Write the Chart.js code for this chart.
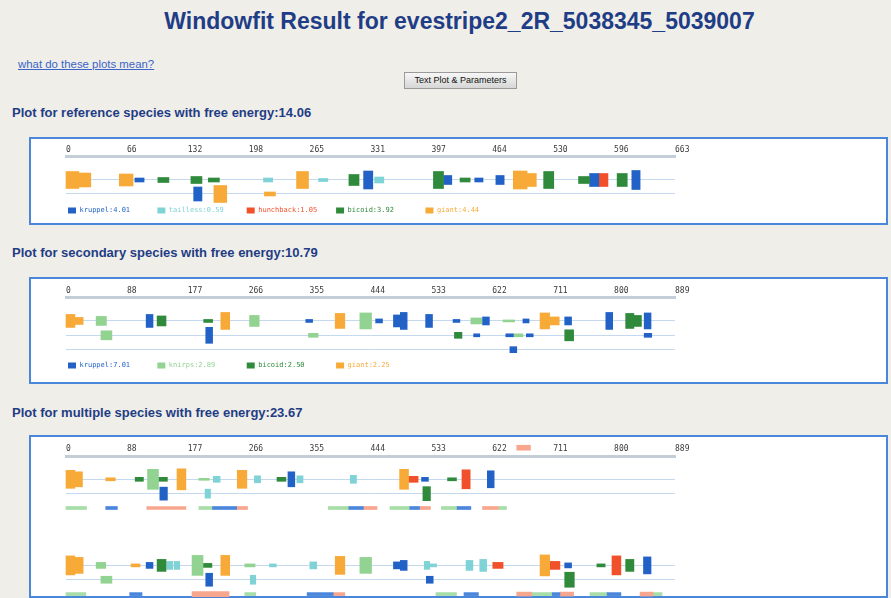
<!DOCTYPE html>
<html>
<head>
<meta charset="utf-8">
<script src="https://cdn.jsdelivr.net/npm/chart.js@4.4.1/dist/chart.umd.min.js"></script>
<style>
  body { margin: 0; background: #efeee8; font-family: "Liberation Sans", Arial, sans-serif; }
  #page { position: relative; width: 891px; height: 598px; overflow: hidden; }
  h1 { position: absolute; top: 8px; left: 14px; width: 891px; margin: 0; text-align: center;
       font: bold 23px "Liberation Sans", Arial, sans-serif; color: #1f3d86; }
  .help { position: absolute; left: 18px; top: 58px; font-size: 11.4px; color: #3a64c8; text-decoration: underline; }
  .btn { position: absolute; left: 404px; top: 72px; width: 113px; height: 17px; box-sizing: border-box;
         border: 1px solid #9a9a9a; background: linear-gradient(#f7f7f7, #d6d6d6);
         font-size: 9px; line-height: 15px; text-align: center; color: #111; }
  h2 { position: absolute; left: 12px; margin: 0; line-height: 15px;
       font: bold 13px "Liberation Sans", Arial, sans-serif; color: #1f3d86; }
  .panel { position: absolute; left: 29px; width: 859px; box-sizing: border-box; border: 2px solid #4a86da; background: #fff; }
  canvas { position: absolute; left: 31px; }
</style>
</head>
<body>
<div id="page">
  <h1>Windowfit Result for evestripe2_2R_5038345_5039007</h1>
  <div class="help">what do these plots mean?</div>
  <div class="btn">Text Plot &amp; Parameters</div>

  <h2 style="top:105px">Plot for reference species with free energy:14.06</h2>
  <div class="panel" style="top:137px;height:88px"></div>
  <canvas id="refChart" width="855" height="90" style="top:139px"></canvas>

  <h2 style="top:245px">Plot for secondary species with free energy:10.79</h2>
  <div class="panel" style="top:277px;height:107px"></div>
  <canvas id="secChart" width="855" height="105" style="top:279px"></canvas>

  <h2 style="top:405px">Plot for multiple species with free energy:23.67</h2>
  <div class="panel" style="top:435px;height:163px"></div>
  <canvas id="mulChart" width="855" height="161" style="top:437px"></canvas>
</div>

<script>
// ---- reference species (663 bp) ----
const refLength = 663;
const refTicks = ['0', '66', '132', '198', '265', '331', '397', '464', '530', '596', '663'];
const refFactors = ['kruppel', 'tailless', 'hunchback', 'bicoid', 'giant'];
const refEnergies = ['4.01', '0.59', '1.05', '3.92', '4.44'];
// [factor, start bp, end bp, row, score]
const refSites = [
  ['giant', 0, 14, 1, 3.9], ['giant', 14, 27, 1, 3.2], ['giant', 58, 73, 1, 2.7],
  ['kruppel', 75, 85, 1, 0.9], ['bicoid', 100, 112, 1, 1.1], ['bicoid', 136, 148, 1, 1.5],
  ['bicoid', 155, 167, 1, 0.8], ['tailless', 215, 225, 1, 1.0], ['giant', 251, 264, 1, 3.9],
  ['tailless', 275, 285, 1, 0.7], ['bicoid', 308, 319, 1, 2.5], ['kruppel', 324, 334, 1, 4.1],
  ['tailless', 336, 346, 1, 1.4], ['bicoid', 400, 411, 1, 3.9], ['kruppel', 411, 420, 1, 2.0],
  ['bicoid', 429, 440, 1, 0.9], ['kruppel', 445, 454, 1, 0.8], ['kruppel', 468, 477, 1, 2.0],
  ['giant', 487, 502, 1, 4.1], ['giant', 502, 512, 1, 3.0], ['bicoid', 520, 531, 1, 3.9],
  ['bicoid', 558, 570, 1, 1.5], ['kruppel', 570, 580, 1, 3.0], ['hunchback', 580, 590, 1, 3.0],
  ['bicoid', 600, 611, 1, 3.0], ['kruppel', 616, 625, 1, 4.3],
  ['kruppel', 139, 148, 2, 3.1], ['giant', 161, 175, 2, 3.9], ['giant', 216, 228, 2, 1.0]
];

// ---- secondary species (889 bp) ----
const secLength = 889;
const secTicks = ['0', '88', '177', '266', '355', '444', '533', '622', '711', '800', '889'];
const secFactors = ['kruppel', 'knirps', 'bicoid', 'giant'];
const secEnergies = ['7.01', '2.89', '2.50', '2.25'];
const secSites = [
  ['giant', 0, 13, 1, 3.0], ['giant', 13, 25, 1, 1.7], ['knirps', 44, 59, 1, 2.0],
  ['kruppel', 117, 127, 1, 3.0], ['bicoid', 133, 146, 1, 2.3], ['bicoid', 201, 214, 1, 0.7],
  ['giant', 226, 239, 1, 3.8], ['knirps', 268, 282, 1, 2.5], ['kruppel', 350, 360, 1, 0.7],
  ['giant', 393, 407, 1, 3.4], ['knirps', 429, 446, 1, 3.6], ['kruppel', 452, 462, 1, 0.8],
  ['kruppel', 478, 488, 1, 2.8], ['kruppel', 488, 498, 1, 3.8], ['kruppel', 525, 535, 1, 3.0],
  ['kruppel', 565, 575, 1, 0.7], ['knirps', 591, 607, 1, 1.4], ['kruppel', 608, 618, 1, 1.9],
  ['knirps', 638, 655, 1, 0.5], ['kruppel', 667, 676, 1, 0.8], ['giant', 692, 706, 1, 3.6],
  ['giant', 706, 720, 1, 1.9], ['kruppel', 728, 738, 1, 1.9], ['kruppel', 788, 798, 1, 3.8],
  ['bicoid', 817, 829, 1, 3.4], ['bicoid', 829, 840, 1, 2.5], ['kruppel', 844, 854, 1, 3.6],
  ['knirps', 51, 67, 2, 2.0], ['kruppel', 204, 214, 2, 3.6], ['knirps', 354, 368, 2, 1.0],
  ['bicoid', 567, 578, 2, 1.3], ['kruppel', 595, 604, 2, 0.7], ['kruppel', 642, 653, 2, 0.7],
  ['knirps', 653, 667, 2, 0.6], ['kruppel', 672, 682, 2, 0.7], ['bicoid', 728, 741, 2, 2.4],
  ['kruppel', 844, 855, 2, 1.0],
  ['kruppel', 648, 658, 3, 1.3]
];

// ---- multiple species (889 bp) ----
const mulLength = 889;
const mulTicks = secTicks;
const mulSites = [
  ['giant', 0, 13, 1, 4.1], ['giant', 13, 24, 1, 3.4], ['giant', 58, 72, 1, 0.75],
  ['bicoid', 101, 113, 1, 1.0], ['knirps', 119, 135, 1, 4.5], ['bicoid', 135, 148, 1, 1.0],
  ['giant', 162, 175, 1, 4.7], ['knirps', 194, 209, 1, 0.5], ['tailless', 215, 225, 1, 1.4],
  ['giant', 250, 264, 1, 4.2], ['tailless', 275, 284, 1, 1.5], ['bicoid', 308, 321, 1, 1.0],
  ['kruppel', 324, 334, 1, 3.4], ['tailless', 337, 346, 1, 1.5], ['tailless', 415, 424, 1, 1.9],
  ['giant', 487, 500, 1, 4.5], ['hunchback', 500, 514, 1, 1.4], ['kruppel', 519, 529, 1, 1.0],
  ['bicoid', 557, 570, 1, 0.7], ['hunchback', 578, 590, 1, 4.3], ['kruppel', 615, 625, 1, 3.8],
  ['kruppel', 137, 148, 2, 2.9], ['tailless', 203, 211, 2, 2.0], ['bicoid', 521, 532, 2, 3.2],
  ['giant', 0, 13, 7, 4.3], ['giant', 13, 25, 7, 3.6], ['knirps', 44, 58, 7, 1.4],
  ['giant', 95, 108, 7, 0.75], ['kruppel', 117, 127, 7, 1.3], ['bicoid', 133, 146, 7, 2.7],
  ['tailless', 147, 156, 7, 1.75], ['tailless', 158, 166, 7, 1.75], ['knirps', 184, 200, 7, 4.5],
  ['bicoid', 200, 213, 7, 0.9], ['giant', 226, 239, 7, 4.5], ['knirps', 261, 276, 7, 0.6],
  ['tailless', 297, 307, 7, 0.6], ['tailless', 356, 366, 7, 1.5], ['giant', 393, 407, 7, 4.1],
  ['knirps', 429, 446, 7, 3.6], ['kruppel', 478, 488, 7, 1.5], ['kruppel', 488, 498, 7, 2.3],
  ['tailless', 523, 531, 7, 1.75], ['tailless', 531, 541, 7, 0.6], ['tailless', 584, 594, 7, 2.3],
  ['tailless', 604, 614, 7, 2.8], ['hunchback', 623, 638, 7, 1.3], ['giant', 692, 706, 7, 4.8],
  ['hunchback', 706, 721, 7, 1.75], ['kruppel', 728, 738, 7, 1.1], ['bicoid', 775, 787, 7, 0.75],
  ['hunchback', 797, 810, 7, 4.3], ['bicoid', 817, 829, 7, 2.8], ['kruppel', 843, 854, 7, 3.8],
  ['knirps', 51, 67, 8, 1.5], ['kruppel', 204, 214, 8, 2.9], ['tailless', 269, 277, 8, 2.0],
  ['kruppel', 526, 536, 8, 1.7], ['bicoid', 728, 742, 8, 3.4]
];
// alignment blocks under each species
const mulAlign = [
  ['alignA', 0, 30, 3, 0.7], ['alignB', 58, 75, 3, 0.7], ['alignC', 118, 175, 3, 0.7],
  ['alignA', 194, 213, 3, 0.7], ['alignB', 213, 249, 3, 0.7], ['alignC', 249, 265, 3, 0.7],
  ['alignA', 383, 412, 3, 0.7], ['alignB', 412, 434, 3, 0.7], ['alignC', 434, 454, 3, 0.7],
  ['alignA', 473, 501, 3, 0.7], ['alignB', 501, 516, 3, 0.7], ['alignC', 516, 532, 3, 0.7],
  ['alignA', 548, 570, 3, 0.7], ['alignB', 570, 591, 3, 0.7], ['alignC', 608, 631, 3, 0.7],
  ['alignA', 631, 643, 3, 0.7],
  ['alignA', 0, 29, 9, 0.7], ['alignB', 93, 111, 9, 0.7], ['alignC', 184, 238, 9, 1.2],
  ['alignA', 261, 277, 9, 0.7], ['alignB', 352, 390, 9, 0.7], ['alignC', 390, 407, 9, 0.7],
  ['alignA', 540, 570, 9, 0.7], ['alignB', 581, 602, 9, 0.7], ['alignC', 658, 680, 9, 0.9],
  ['alignA', 680, 709, 9, 0.7], ['alignB', 709, 721, 9, 0.7], ['alignC', 721, 741, 9, 0.9],
  ['alignA', 765, 789, 9, 0.7], ['alignB', 789, 810, 9, 0.7], ['alignC', 838, 857, 9, 0.9],
  ['alignA', 857, 870, 9, 0.7],
  ['alignC', 658, 678, -1.2, 1.2]
];

const palette = {
  kruppel: '#2262c6',
  tailless: '#7fd3d6',
  hunchback: '#f0502a',
  bicoid: '#2f8a3b',
  giant: '#f8aa38',
  knirps: '#92d392',
  alignA: '#a7dda7',
  alignB: '#4a86dc',
  alignC: '#f8a68e'
};

function siteDatasets(sites) {
  return sites.map(([f, s, e, row, score]) => ({
    label: f,
    data: [{ x: [s, e], y: row }],
    backgroundColor: palette[f],
    borderWidth: 0,
    barThickness: Math.max(2, Math.round(score * 4.4)),
    grouped: false,
    clip: false
  }));
}

function drawTrack(id, opt) {
  new Chart(document.getElementById(id), {
    type: 'bar',
    data: { datasets: siteDatasets(opt.sites) },
    options: {
      indexAxis: 'y',
      responsive: false,
      animation: false,
      events: [],
      layout: { padding: { top: opt.padTop, left: 35, right: 211, bottom: opt.padBottom } },
      plugins: {
        tooltip: { enabled: false },
        legend: {
          display: !!opt.factors,
          position: 'bottom',
          align: 'start',
          labels: {
            boxWidth: 8,
            boxHeight: 6,
            padding: 2,
            font: { family: 'DejaVu Sans Mono', size: 7 },
            generateLabels: () => (opt.factors || []).map((f, i) => ({
              text: (f + ':' + opt.energies[i]).padEnd(18),
              fillStyle: palette[f],
              strokeStyle: palette[f],
              lineWidth: 0,
              fontColor: palette[f],
              hidden: false
            }))
          }
        }
      },
      scales: {
        x: {
          type: 'linear',
          position: 'top',
          min: 0,
          max: opt.length,
          afterBuildTicks: axis => {
            axis.ticks = opt.ticks.map((t, i) => ({ value: i * opt.length / (opt.ticks.length - 1) }));
          },
          grid: { display: false, drawTicks: false },
          border: { display: true, color: '#c3ced9', width: 3 },
          ticks: {
            align: 'start',
            autoSkip: false,
            maxRotation: 0,
            padding: 2,
            color: '#3a3a3a',
            font: { family: 'DejaVu Sans Mono', size: 8 },
            callback: (v, i) => opt.ticks[i]
          }
        },
        y: {
          type: 'linear',
          reverse: true,
          offset: false,
          min: opt.yMin,
          max: opt.yMax,
          afterBuildTicks: axis => {
            axis.ticks = opt.lines.map(v => ({ value: v }));
          },
          grid: { offset: false, drawTicks: false, color: '#c4d8ee', lineWidth: 1 },
          border: { display: false },
          ticks: { display: false }
        }
      }
    }
  });
}

drawTrack('refChart', {
  length: refLength, ticks: refTicks, sites: refSites,
  factors: refFactors, energies: refEnergies,
  lines: [1, 2], yMin: -0.671, yMax: 2.786, padTop: 4, padBottom: 5
});

drawTrack('secChart', {
  length: secLength, ticks: secTicks, sites: secSites,
  factors: secFactors, energies: secEnergies,
  lines: [1, 2, 3], yMin: -0.624, yMax: 3.718, padTop: 5, padBottom: 5
});

drawTrack('mulChart', {
  length: mulLength, ticks: mulTicks, sites: mulSites.concat(mulAlign),
  lines: [1, 2, 7, 8], yMin: -0.624, yMax: 9.272, padTop: 5.4, padBottom: 0
});
</script>
</body>
</html>
